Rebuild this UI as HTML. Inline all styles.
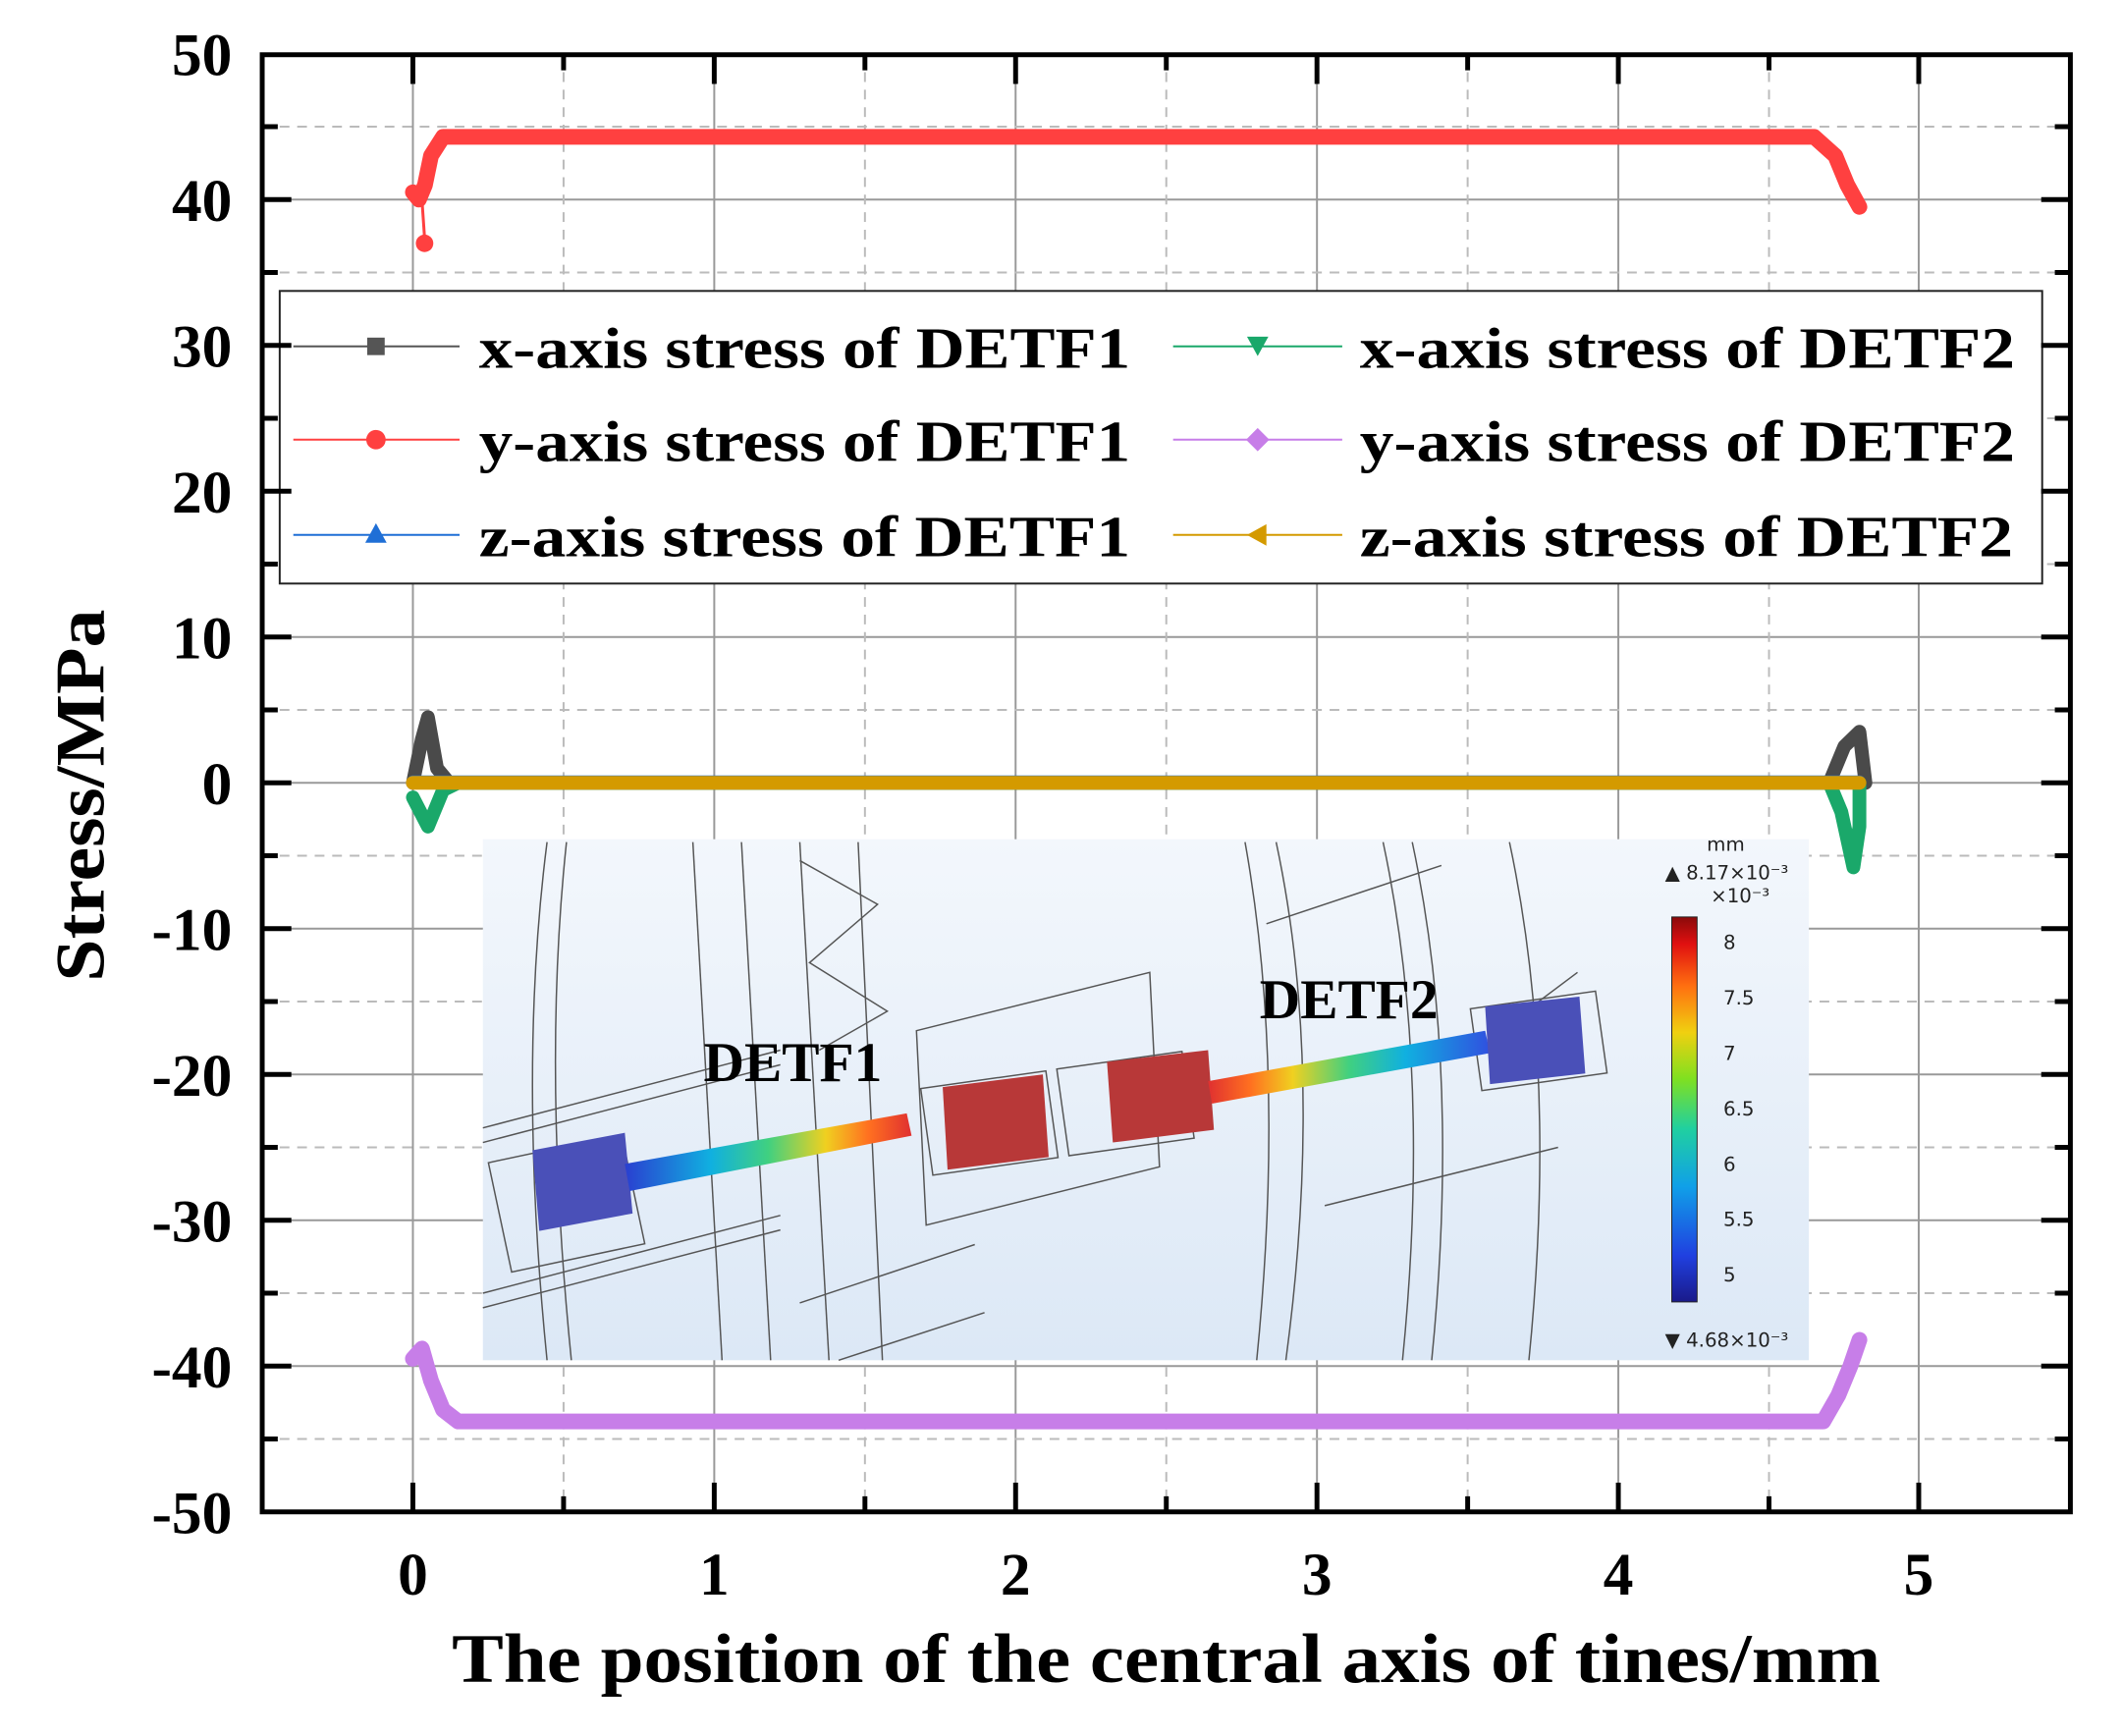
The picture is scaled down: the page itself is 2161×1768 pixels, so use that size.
<!DOCTYPE html>
<html><head><meta charset="utf-8"><style>
html,body{margin:0;padding:0;background:#fff}
svg{display:block}
text{font-family:"Liberation Serif",serif;font-weight:bold}
</style></head><body>
<svg width="2161" height="1768" viewBox="0 0 2161 1768" xmlns="http://www.w3.org/2000/svg">
<defs>
<linearGradient id="bg" x1="0" y1="0" x2="0" y2="1"><stop offset="0" stop-color="#f3f7fc"/><stop offset="1" stop-color="#dce8f6"/></linearGradient>
<linearGradient id="beam1" x1="0" y1="0" x2="1" y2="0"><stop offset="0" stop-color="#2a3fd0"/><stop offset="0.3" stop-color="#10b0e0"/><stop offset="0.5" stop-color="#40d080"/><stop offset="0.7" stop-color="#f0d020"/><stop offset="0.85" stop-color="#ff7020"/><stop offset="1" stop-color="#e03030"/></linearGradient>
<linearGradient id="beam2" x1="1" y1="0" x2="0" y2="0"><stop offset="0" stop-color="#3050e0"/><stop offset="0.3" stop-color="#10b0e0"/><stop offset="0.5" stop-color="#40d080"/><stop offset="0.7" stop-color="#f0d020"/><stop offset="0.85" stop-color="#ff7020"/><stop offset="1" stop-color="#e03030"/></linearGradient>
<linearGradient id="cb" x1="0" y1="1" x2="0" y2="0"><stop offset="0" stop-color="#1a1a8a"/><stop offset="0.12" stop-color="#2040e0"/><stop offset="0.3" stop-color="#10a0e8"/><stop offset="0.45" stop-color="#20d0a0"/><stop offset="0.58" stop-color="#80e020"/><stop offset="0.7" stop-color="#f0d010"/><stop offset="0.82" stop-color="#ff7010"/><stop offset="0.93" stop-color="#e01010"/><stop offset="1" stop-color="#8a0a0a"/></linearGradient>
</defs>
<g transform="translate(2.7,0.3) scale(0.99)">
<!-- grid -->
<g stroke="#999" stroke-width="2">
<line x1="422" y1="56" x2="422" y2="1555"/><line x1="732" y1="56" x2="732" y2="1555"/><line x1="1042" y1="56" x2="1042" y2="1555"/><line x1="1352" y1="56" x2="1352" y2="1555"/><line x1="1662" y1="56" x2="1662" y2="1555"/><line x1="1971" y1="56" x2="1971" y2="1555"/>
<line x1="267" y1="205" x2="2127" y2="205"/><line x1="267" y1="355" x2="2127" y2="355"/><line x1="267" y1="505" x2="2127" y2="505"/><line x1="267" y1="655" x2="2127" y2="655"/><line x1="267" y1="805" x2="2127" y2="805"/><line x1="267" y1="955" x2="2127" y2="955"/><line x1="267" y1="1105" x2="2127" y2="1105"/><line x1="267" y1="1255" x2="2127" y2="1255"/><line x1="267" y1="1405" x2="2127" y2="1405"/>
</g>
<g stroke="#bbb" stroke-width="2" stroke-dasharray="10,8">
<line x1="577" y1="56" x2="577" y2="1555"/><line x1="887" y1="56" x2="887" y2="1555"/><line x1="1197" y1="56" x2="1197" y2="1555"/><line x1="1507" y1="56" x2="1507" y2="1555"/><line x1="1817" y1="56" x2="1817" y2="1555"/>
<line x1="267" y1="130" x2="2127" y2="130"/><line x1="267" y1="280" x2="2127" y2="280"/><line x1="267" y1="430" x2="2127" y2="430"/><line x1="267" y1="580" x2="2127" y2="580"/><line x1="267" y1="730" x2="2127" y2="730"/><line x1="267" y1="880" x2="2127" y2="880"/><line x1="267" y1="1030" x2="2127" y2="1030"/><line x1="267" y1="1180" x2="2127" y2="1180"/><line x1="267" y1="1330" x2="2127" y2="1330"/><line x1="267" y1="1480" x2="2127" y2="1480"/>
</g>

<!-- data -->
<g transform="translate(422,805) scale(310,-15)" fill="none" stroke-linejoin="round" stroke-linecap="round">
<polyline vector-effect="non-scaling-stroke" stroke="#ff4040" stroke-width="16" points="0,40.5 0.02,40 0.04,41 0.06,43 0.1,44.3 4.65,44.3 4.72,43 4.76,41 4.8,39.5"/>
<polyline vector-effect="non-scaling-stroke" stroke="#ff4040" stroke-width="3" points="0.03,40 0.04,37"/>
<polyline vector-effect="non-scaling-stroke" stroke="#c77ee8" stroke-width="16" points="0,-39.5 0.03,-38.8 0.06,-41 0.1,-43 0.15,-43.8 4.68,-43.8 4.73,-42 4.77,-40 4.8,-38.2"/>
<polyline vector-effect="non-scaling-stroke" stroke="#4a4a4a" stroke-width="14" points="0,0 0.03,3 0.05,4.5 0.08,1 0.12,0 4.7,0 4.75,2.5 4.8,3.5 4.82,0"/>
<polyline vector-effect="non-scaling-stroke" stroke="#1aa86a" stroke-width="14" points="0,-1 0.05,-3 0.1,-0.5 0.15,0 4.7,0 4.74,-2 4.78,-5.8 4.8,-3 4.8,0"/>
<polyline vector-effect="non-scaling-stroke" stroke="#1f6fd6" stroke-width="12" points="0,0.1 4.8,0.1"/>
<polyline vector-effect="non-scaling-stroke" stroke="#d49a00" stroke-width="14" points="0,0 4.8,0"/>
</g>
<circle cx="434" cy="250" r="9" fill="#ff4040"/>

<!-- inset -->
<g>
<rect x="494" y="863" width="1364" height="536" fill="url(#bg)"/>
<g fill="none" stroke="#555" stroke-width="1.5">
<path d="M560 866 Q530 1100 560 1399"/><path d="M580 866 Q555 1100 585 1399"/>
<path d="M710 866 L740 1399"/><path d="M760 866 L790 1399"/>
<path d="M820 866 L850 1399"/><path d="M880 866 L905 1399"/>
<path d="M1278 866 Q1320 1100 1290 1399"/><path d="M1310 866 Q1360 1100 1320 1399"/>
<path d="M1420 866 Q1470 1100 1440 1399"/><path d="M1450 866 Q1500 1100 1470 1399"/>
<path d="M1550 866 Q1600 1100 1570 1399"/>
<path d="M820 885 L900 930 L830 990 L910 1040 L840 1080"/>
<path d="M494 1160 L800 1080"/><path d="M494 1175 L800 1095"/>
<path d="M494 1330 L800 1250"/><path d="M494 1345 L800 1265"/>
<path d="M940 1060 L1180 1000 L1190 1200 L950 1260 Z"/>
<path d="M1540 1060 L1620 1000"/><path d="M1300 950 L1480 890"/>
<path d="M820 1340 L1000 1280"/><path d="M860 1399 L1010 1350"/><path d="M1360 1240 L1600 1180"/>
<rect x="510" y="1180" width="140" height="115" transform="rotate(-12 580 1237)"/>
<rect x="950" y="1110" width="130" height="90" transform="rotate(-8 1015 1155)"/>
<rect x="1090" y="1090" width="130" height="90" transform="rotate(-8 1155 1135)"/>
<rect x="1515" y="1028" width="130" height="85" transform="rotate(-8 1580 1070)"/>
</g>
<polygon points="545,1183 640,1165 648,1248 552,1266" fill="#4a50b8"/>
<polygon points="640,1197 930,1145 935,1168 645,1225" fill="url(#beam1)"/>
<polygon points="967,1118 1070,1105 1076,1190 972,1203" fill="#b83838"/>
<polygon points="1136,1092 1240,1080 1246,1162 1142,1175" fill="#b83838"/>
<polygon points="1240,1112 1525,1060 1530,1083 1244,1135" fill="url(#beam2)"/>
<polygon points="1525,1035 1622,1025 1628,1104 1530,1115" fill="#4a50b8"/>
<text x="721" y="1112" font-size="58">DETF1</text>
<text x="1293" y="1047" font-size="58">DETF2</text>
<rect x="1717" y="943" width="26" height="396" fill="url(#cb)" stroke="#222" stroke-width="1"/>
<g font-family="'DejaVu Sans',sans-serif" font-size="20" fill="#222">
<text x="1753" y="875" style="font-weight:normal;font-family:'DejaVu Sans',sans-serif">mm</text>
<text x="1710" y="904" style="font-weight:normal;font-family:'DejaVu Sans',sans-serif">▲ 8.17×10⁻³</text>
<text x="1757" y="928" style="font-weight:normal;font-family:'DejaVu Sans',sans-serif">×10⁻³</text>
<text x="1770" y="976" style="font-weight:normal;font-family:'DejaVu Sans',sans-serif">8</text>
<text x="1770" y="1033" style="font-weight:normal;font-family:'DejaVu Sans',sans-serif">7.5</text>
<text x="1770" y="1090" style="font-weight:normal;font-family:'DejaVu Sans',sans-serif">7</text>
<text x="1770" y="1147" style="font-weight:normal;font-family:'DejaVu Sans',sans-serif">6.5</text>
<text x="1770" y="1204" style="font-weight:normal;font-family:'DejaVu Sans',sans-serif">6</text>
<text x="1770" y="1261" style="font-weight:normal;font-family:'DejaVu Sans',sans-serif">5.5</text>
<text x="1770" y="1318" style="font-weight:normal;font-family:'DejaVu Sans',sans-serif">5</text>
<text x="1710" y="1385" style="font-weight:normal;font-family:'DejaVu Sans',sans-serif">▼ 4.68×10⁻³</text>
</g>
</g>

<!-- legend -->
<rect x="285" y="299" width="1813" height="301" fill="#fff" stroke="#222" stroke-width="2"/>
<g stroke-width="2">
<line x1="299" y1="356" x2="470" y2="356" stroke="#555"/><rect x="375" y="347" width="18" height="18" fill="#555"/>
<line x1="299" y1="452" x2="470" y2="452" stroke="#ff4040"/><circle cx="384" cy="452" r="10" fill="#ff4040"/>
<line x1="299" y1="550" x2="470" y2="550" stroke="#1f6fd6"/><polygon points="384,538 395,558 373,558" fill="#1f6fd6"/>
<line x1="1204" y1="356" x2="1378" y2="356" stroke="#1aa86a"/><polygon points="1280,346 1302,346 1291,366" fill="#1aa86a"/>
<line x1="1204" y1="452" x2="1378" y2="452" stroke="#c77ee8"/><polygon points="1291,440 1303,452 1291,464 1279,452" fill="#c77ee8"/>
<line x1="1204" y1="550" x2="1378" y2="550" stroke="#d49a00"/><polygon points="1280,550 1300,539 1300,561" fill="#d49a00"/>
</g>
<g font-size="60" fill="#000">
<text x="490" y="378" textLength="670" lengthAdjust="spacingAndGlyphs">x-axis stress of DETF1</text>
<text x="490" y="474" textLength="670" lengthAdjust="spacingAndGlyphs">y-axis stress of DETF1</text>
<text x="490" y="572" textLength="670" lengthAdjust="spacingAndGlyphs">z-axis stress of DETF1</text>
<text x="1396" y="378" textLength="674" lengthAdjust="spacingAndGlyphs">x-axis stress of DETF2</text>
<text x="1396" y="474" textLength="674" lengthAdjust="spacingAndGlyphs">y-axis stress of DETF2</text>
<text x="1396" y="572" textLength="672" lengthAdjust="spacingAndGlyphs">z-axis stress of DETF2</text>
</g>

<!-- frame & ticks -->
<rect x="267" y="56" width="1860" height="1499" fill="none" stroke="#000" stroke-width="5"/>
<g stroke="#000" stroke-width="5">
<path d="M267 205h30M267 355h30M267 505h30M267 655h30M267 805h30M267 955h30M267 1105h30M267 1255h30M267 1405h30"/>
<path d="M267 130h16M267 280h16M267 430h16M267 580h16M267 730h16M267 880h16M267 1030h16M267 1180h16M267 1330h16M267 1480h16"/>
<path d="M2127 205h-30M2127 355h-30M2127 505h-30M2127 655h-30M2127 805h-30M2127 955h-30M2127 1105h-30M2127 1255h-30M2127 1405h-30"/>
<path d="M2127 130h-16M2127 280h-16M2127 430h-16M2127 580h-16M2127 730h-16M2127 880h-16M2127 1030h-16M2127 1180h-16M2127 1330h-16M2127 1480h-16"/>
<path d="M422 1555v-30M732 1555v-30M1042 1555v-30M1352 1555v-30M1662 1555v-30M1971 1555v-30"/>
<path d="M577 1555v-16M887 1555v-16M1197 1555v-16M1507 1555v-16M1817 1555v-16"/>
<path d="M422 56v30M732 56v30M1042 56v30M1352 56v30M1662 56v30M1971 56v30"/>
<path d="M577 56v16M887 56v16M1197 56v16M1507 56v16M1817 56v16"/>
</g>
<g font-size="62" fill="#000" text-anchor="end">
<text x="236" y="77">50</text><text x="236" y="227">40</text><text x="236" y="377">30</text><text x="236" y="527">20</text><text x="236" y="677">10</text><text x="236" y="827">0</text><text x="236" y="977">-10</text><text x="236" y="1127">-20</text><text x="236" y="1277">-30</text><text x="236" y="1427">-40</text><text x="236" y="1577">-50</text>
</g>
<g font-size="62" fill="#000" text-anchor="middle">
<text x="422" y="1640">0</text><text x="732" y="1640">1</text><text x="1042" y="1640">2</text><text x="1352" y="1640">3</text><text x="1662" y="1640">4</text><text x="1971" y="1640">5</text>
</g>
<text x="1197" y="1730" font-size="72" text-anchor="middle" textLength="1470" lengthAdjust="spacingAndGlyphs">The position of the central axis of tines/mm</text>
<text transform="translate(104,818) rotate(-90)" font-size="72" text-anchor="middle" textLength="383" lengthAdjust="spacingAndGlyphs">Stress/MPa</text>
</g>
</svg>
</body></html>
